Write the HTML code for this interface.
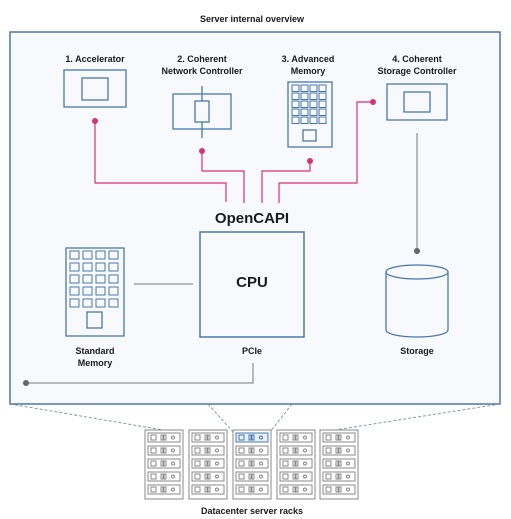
<!DOCTYPE html>
<html><head><meta charset="utf-8"><style>
html,body{margin:0;padding:0;background:#fff;}
svg{display:block;}
text{font-family:"Liberation Sans",sans-serif;fill:#1a1a1a;}
</style></head><body>
<svg width="511" height="519" viewBox="0 0 511 519" xmlns="http://www.w3.org/2000/svg">
<text x="252" y="22" font-size="9" text-anchor="middle" font-weight="bold" fill="#333">Server internal overview</text>
<rect x="10" y="32" width="490" height="372" fill="#f7f9fc" stroke="#4a78ad" stroke-width="1.5"/>
<g font-size="9" font-weight="bold" text-anchor="middle">
<text x="95" y="62">1. Accelerator</text>
<text x="202" y="62">2. Coherent</text><text x="202" y="74">Network Controller</text>
<text x="308" y="62">3. Advanced</text><text x="308" y="74">Memory</text>
<text x="417" y="62">4. Coherent</text><text x="417" y="74">Storage Controller</text>
<text x="95" y="354">Standard</text><text x="95" y="366">Memory</text>
<text x="252" y="354">PCIe</text>
<text x="417" y="354">Storage</text>
<text x="252" y="514">Datacenter server racks</text>
</g>
<text x="252" y="223" font-size="15" font-weight="bold" text-anchor="middle" fill="#111">OpenCAPI</text>
<g fill="none" stroke="#4a78ad" stroke-width="1.3">
<rect x="64" y="70" width="62" height="37"/><rect x="82" y="78" width="26" height="22"/>
<rect x="173" y="94" width="58" height="35"/><rect x="195" y="101" width="14" height="21"/>
<line x1="202" y1="86" x2="202" y2="101"/><line x1="202" y1="122" x2="202" y2="138"/>
<rect x="288" y="82" width="44" height="65"/><rect x="303" y="130" width="13" height="11"/>
<rect x="387" y="84" width="60" height="36"/><rect x="404" y="92" width="26" height="20"/>
<rect x="200" y="232" width="104" height="105" stroke-width="1.5"/>
<rect x="66" y="248" width="58" height="88"/><rect x="87" y="312" width="15" height="16"/>
<path d="M386 272 V330 M448 272 V330"/>
<ellipse cx="417" cy="272" rx="31" ry="7" fill="#f7f9fc"/>
<path d="M386 330 A31 7 0 0 0 448 330"/>
</g>
<g fill="none" stroke="#4a78ad" stroke-width="1">
<g id="g1">
<rect x="292" y="85" width="7" height="6.5"/><rect x="301" y="85" width="7" height="6.5"/><rect x="310" y="85" width="7" height="6.5"/><rect x="319" y="85" width="7" height="6.5"/>
</g>
<use href="#g1" y="8"/><use href="#g1" y="16"/><use href="#g1" y="24"/><use href="#g1" y="32"/>
<g id="g2">
<rect x="70" y="251" width="9" height="8"/><rect x="83" y="251" width="9" height="8"/><rect x="96" y="251" width="9" height="8"/><rect x="109" y="251" width="9" height="8"/>
</g>
<use href="#g2" y="12"/><use href="#g2" y="24"/><use href="#g2" y="36"/><use href="#g2" y="48"/>
</g>
<text x="252" y="287" font-size="15" font-weight="bold" text-anchor="middle" fill="#111">CPU</text>
<g fill="none" stroke="#d4327a" stroke-width="1.2">
<path d="M95 121 V183 H226 V202"/>
<path d="M202 151 V171 H244 V203"/>
<path d="M310 161 V171 H262 V203"/>
<path d="M373 102 H357 V183 H279 V203"/>
</g>
<g fill="#d4327a"><circle cx="95" cy="121" r="3"/><circle cx="202" cy="151" r="3"/><circle cx="310" cy="161" r="3"/><circle cx="373" cy="102" r="3"/></g>
<g stroke="#777" stroke-width="1" fill="none">
<line x1="134" y1="284" x2="193" y2="284"/>
<line x1="417" y1="133" x2="417" y2="251"/>
<path d="M253 363 V383 H26"/>
</g>
<g fill="#666"><circle cx="417" cy="251" r="3"/><circle cx="26" cy="383" r="3"/></g>
<g stroke="#7a8ea8" stroke-width="0.9" stroke-dasharray="3,2" fill="none">
<line x1="10" y1="404" x2="175" y2="432"/>
<line x1="208" y1="404" x2="233" y2="432"/>
<line x1="292" y1="404" x2="270" y2="432"/>
<line x1="500" y1="404" x2="322" y2="432"/>
</g>
<g fill="#fff" stroke="#888" stroke-width="1">
<g id="rack">
<rect x="145" y="430" width="38" height="69"/>
<g id="slot"><rect x="148" y="433" width="32" height="9"/><rect x="151" y="435" width="5" height="5"/><rect x="161" y="435" width="2" height="5"/><rect x="164" y="435" width="2" height="5"/><circle cx="173" cy="437.5" r="1.5"/></g>
<use href="#slot" y="13"/><use href="#slot" y="26"/><use href="#slot" y="39"/><use href="#slot" y="52"/>
</g>
<use href="#rack" x="44"/><use href="#rack" x="88"/><use href="#rack" x="132"/><use href="#rack" x="175"/>
</g>
<rect x="236" y="433" width="32" height="9" fill="#e8f0fa" stroke="#4a78ad" stroke-width="1"/>
<g stroke="#4a78ad" fill="none"><rect x="239" y="435" width="5" height="5"/><rect x="249" y="435" width="2" height="5"/><rect x="252" y="435" width="2" height="5"/><circle cx="261" cy="437.5" r="1.5"/></g>
</svg>
</body></html>
